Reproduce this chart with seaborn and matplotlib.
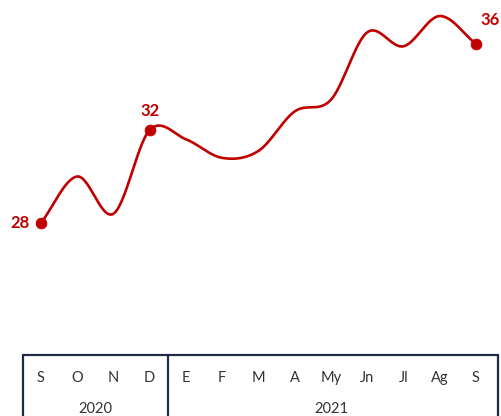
import numpy as np
import pandas as pd
import matplotlib
matplotlib.use("Agg")
import matplotlib.pyplot as plt
import seaborn as sns

# datos
meses = ["S", "O", "N", "D", "E", "F", "M", "A", "My", "Jn", "Jl", "Ag", "S"]
anios = ["2020", "2021"]
meses_por_anio = [4, 9]
valores = [28.0, 30.0, 28.4, 32.0, 31.6, 30.8, 31.1, 32.8, 33.3, 36.2, 35.6, 36.9, 35.7]
etiquetas = {0: "28", 3: "32", 12: "36"}

rojo = "#C00000"
azul = "#1F2A44"


def suavizar(x, y, pasos=30):
    """Curva tipo Catmull-Rom, como la línea suavizada de Excel."""
    x = np.asarray(x, float)
    y = np.asarray(y, float)
    px = np.concatenate([[2 * x[0] - x[1]], x, [2 * x[-1] - x[-2]]])
    py = np.concatenate([[2 * y[0] - y[1]], y, [2 * y[-1] - y[-2]]])
    xs, ys = [], []
    t = np.linspace(0, 1, pasos, endpoint=False)
    for i in range(1, len(px) - 2):
        for arr, out in ((px, xs), (py, ys)):
            p0, p1, p2, p3 = arr[i - 1], arr[i], arr[i + 1], arr[i + 2]
            out.extend(0.5 * ((2 * p1) + (-p0 + p2) * t
                              + (2 * p0 - 5 * p1 + 4 * p2 - p3) * t ** 2
                              + (-p0 + 3 * p1 - 3 * p2 + p3) * t ** 3))
    xs.append(x[-1])
    ys.append(y[-1])
    return np.array(xs), np.array(ys)


sns.set_style("white")
plt.rcParams["font.family"] = ["Lato", "DejaVu Sans"]

fig = plt.figure(figsize=(5.01, 4.16), dpi=100)
ax = fig.add_axes([0, 0, 1, 1])

idx = np.arange(len(meses))
sx, sy = suavizar(idx, valores)
curva = pd.DataFrame({"x": sx, "y": sy})
sns.lineplot(data=curva, x="x", y="y", color=rojo, linewidth=1.9, ax=ax, sort=False)

puntos = pd.DataFrame({"x": [i for i in etiquetas], "y": [valores[i] for i in etiquetas]})
sns.scatterplot(data=puntos, x="x", y="y", color=rojo, s=60, edgecolor=rojo, zorder=5, ax=ax)

# etiquetas de los puntos
ax.annotate(etiquetas[0], (0, valores[0]), xytext=(-15, 0), textcoords="offset points",
            ha="center", va="center", color=rojo, fontsize=12, fontweight="bold")
ax.annotate(etiquetas[3], (3, valores[3]), xytext=(0, 14), textcoords="offset points",
            ha="center", va="center", color=rojo, fontsize=12, fontweight="bold")
ax.annotate(etiquetas[12], (12, valores[12]), xytext=(10, 17), textcoords="offset points",
            ha="center", va="center", color=rojo, fontsize=12, fontweight="bold")

ax.set_xlim(-1.13, 12.69)
ax.set_ylim(19.7, 37.59)
ax.axis("off")

# tabla del eje inferior
y_top, y_mes, y_anio, y_bot = 22.32, 21.33, 19.98, 19.0
x_izq, x_der = -0.5, 12.6
caja = dict(color=azul, linewidth=1.6, clip_on=True)
ax.plot([x_izq, x_der], [y_top, y_top], **caja)
ax.plot([x_izq, x_izq], [y_top, y_bot], **caja)
ax.plot([x_der, x_der], [y_top, y_bot], **caja)

inicio = 0
for anio, n in zip(anios, meses_por_anio):
    fin = inicio + n
    if fin < len(meses):
        ax.plot([fin - 0.5, fin - 0.5], [y_top, y_bot], **caja)
    izq = max(inicio - 0.5, x_izq)
    der = min(fin - 0.5, x_der)
    ax.text((izq + der) / 2, y_anio, anio, ha="center", va="center",
            fontsize=10.5, color="#333333")
    inicio = fin

for i, m in enumerate(meses):
    ax.text(i, y_mes, m, ha="center", va="center", fontsize=10.5, color="#333333")

fig.savefig("out.png", dpi=100, facecolor="white")
